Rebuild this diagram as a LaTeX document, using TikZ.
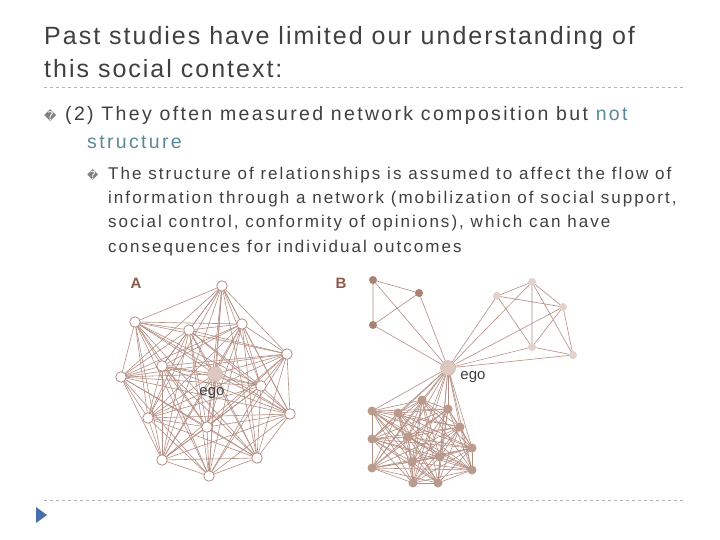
\documentclass[tikz,border=0pt]{standalone}
\usepackage{fontspec}
\setmainfont{Liberation Sans}
\newfontfamily\dv{DejaVu Sans}
\newfontfamily\tA[LetterSpace=8]{Liberation Sans}
\newfontfamily\tB[LetterSpace=12]{Liberation Sans}
\newfontfamily\tC[LetterSpace=12]{Liberation Sans}
\begin{document}
\begin{tikzpicture}[x=1pt,y=-1pt,
  edge/.style={draw=edgec,line width=0.6pt},
  wnode/.style={circle,draw=edgec,fill=white,line width=0.8pt,minimum size=10.5pt,inner sep=0pt},
  dnode/.style={circle,fill=darkn,minimum size=8pt,inner sep=0pt},
  lnode/.style={circle,fill=lightn,minimum size=8pt,inner sep=0pt},
  cnode/.style={circle,fill=clun,minimum size=9pt,inner sep=0pt},
  egonode/.style={circle,fill=egoc,draw=edgec!70,minimum size=15pt,inner sep=0pt},
  txt/.style={anchor=base west,inner sep=0pt,text=bodyc},
  sep/.style={draw=gray!60,dashed,line width=0.6pt}]
\definecolor{edgec}{HTML}{B48E82}
\definecolor{darkn}{HTML}{A88272}
\definecolor{lightn}{HTML}{E2D2CC}
\definecolor{clun}{HTML}{BA9A8C}
\definecolor{egoc}{HTML}{DCC8C0}
\definecolor{bodyc}{HTML}{404040}
\definecolor{notc}{HTML}{5B8A98}
\definecolor{labc}{HTML}{8B5A4A}
\useasboundingbox[fill=white] (0,0) rectangle (720,540);
% texts
\node[txt,font=\tA\fontsize{25}{30}\selectfont] (t1) at (44,45) {Past studies have limited our understanding of};
\node[txt,font=\tA\fontsize{25}{30}\selectfont] (t2) at (44,78) {this social context:};
\draw[sep] (44,87) -- (686,87);
\draw[sep] (44,500) -- (686,500);
\node[txt,font=\dv\fontsize{12}{14}\selectfont,text=gray] (b1) at (44,121) {�};
\node[txt,font=\tB\fontsize{19.5}{24}\selectfont] (l1) at (65,121) {(2) They often measured network composition but \textcolor{notc}{not}};
\node[txt,font=\tB\fontsize{19.5}{24}\selectfont,text=notc] (l2) at (87,149) {structure};
\node[txt,font=\dv\fontsize{11}{14}\selectfont,text=gray] (b2) at (87,180) {�};
\node[txt,font=\tC\fontsize{17}{20}\selectfont] (m1) at (108,180) {The structure of relationships is assumed to affect the flow of};
\node[txt,font=\tC\fontsize{17}{20}\selectfont] (m2) at (108,204) {information through a network (mobilization of social support,};
\node[txt,font=\tC\fontsize{17}{20}\selectfont] (m3) at (108,228) {social control, conformity of opinions), which can have};
\node[txt,font=\tC\fontsize{17}{20}\selectfont] (m4) at (108,252) {consequences for individual outcomes};
\fill[notc!80!blue] (36,507) -- (47,515) -- (36,523) -- cycle;
% network A
\node[font=\bfseries\fontsize{15}{18}\selectfont,text=labc] (LA) at (136,283) {A};
\node[font=\bfseries\fontsize{15}{18}\selectfont,text=labc] (LB) at (341,283) {B};
\foreach \n/\x/\y in {1/222/286,2/135/322,3/189/330,4/242/324,5/287/354,6/162/366,7/121/377,8/261/386,9/148/418,10/290/414,11/207/427,12/162/460,13/257/458,14/209/476,15/215/374}
  \coordinate (a\n) at (\x,\y);
\foreach \i in {1,...,15}{\foreach \j in {1,...,15}{\ifnum\i<\j \draw[edge] (a\i) -- (a\j);\fi}}
\foreach \n in {1,...,14} \node[wnode] (A\n) at (a\n) {};
\node[egonode] (Aego) at (a15) {};
\node[font=\fontsize{15}{18}\selectfont,text=bodyc] (egoA) at (212,393) {ego};
% network B
\coordinate (e) at (448,368);
\foreach \n/\x/\y in {1/373/280,2/419/293,3/373/325} \coordinate (d\n) at (\x,\y);
\foreach \n/\x/\y in {1/532/282,2/497/296,3/563/307,4/532/347,5/573/355} \coordinate (l\n) at (\x,\y);
\foreach \n/\x/\y in {1/372/411,2/398/413,3/422/400,4/448/409,5/460/427,6/372/439,7/408/437,8/440/457,9/472/448,10/372/468,11/412/462,12/472/470,13/413/483,14/438/483}
  \coordinate (c\n) at (\x,\y);
\draw[edge] (d1)--(d2) (d1)--(d3) (d2)--(d3) (d1)--(e) (d2)--(e) (d3)--(e);
\draw[edge] (l1)--(l2) (l1)--(l3) (l1)--(l4) (l2)--(l3) (l2)--(l4) (l3)--(l4) (l3)--(l5) (l4)--(l5) (l1)--(l5);
\foreach \n in {1,...,5} \draw[edge] (e)--(l\n);
\foreach \i in {1,...,14}{\draw[edge] (e)--(c\i); \foreach \j in {1,...,14}{\ifnum\i<\j \draw[edge] (c\i) -- (c\j);\fi}}
\foreach \n in {1,2,3} \node[dnode] (D\n) at (d\n) {};
\foreach \n in {1,...,5} \node[lnode] (L\n) at (l\n) {};
\foreach \n in {1,...,14} \node[cnode] (C\n) at (c\n) {};
\node[egonode] (Bego) at (e) {};
\node[font=\fontsize{15}{18}\selectfont,text=bodyc] (egoB) at (473,377) {ego};
\end{tikzpicture}
\end{document}
